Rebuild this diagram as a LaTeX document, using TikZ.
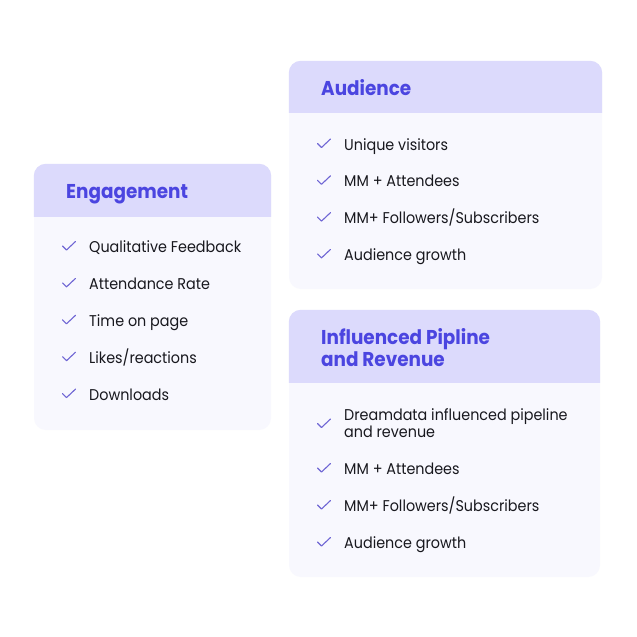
\documentclass[tikz,border=0pt]{standalone}
\usepackage{fontspec}
\setmainfont[FakeStretch=0.92]{Poppins}
\usetikzlibrary{calc}
\definecolor{hdrfill}{HTML}{DCDAFC}
\definecolor{bodyfill}{HTML}{F8F8FE}
\definecolor{titlecol}{HTML}{4B45E0}
\definecolor{checkcol}{HTML}{6F66D4}
\definecolor{itemcol}{HTML}{18181E}
\tikzset{
  cardbody/.style={draw=none, fill=bodyfill, rounded corners=12pt, inner sep=0pt},
  hdr/.style={fill=hdrfill, rounded corners=12pt},
  cardtitle/.style={anchor=base west, inner sep=0pt, text=titlecol, font=\fontsize{20}{22}\selectfont\bfseries, align=left},
  item/.style={anchor=base west, inner sep=0pt, text=itemcol, font=\fontsize{15.6}{17}\selectfont, align=left},
  checkmark/.style={draw=checkcol, line width=1.1pt, line cap=round, line join=round}
}
\newcommand\mycheck[1]{\draw[checkmark] ($(#1.base west)+(-26.5,-6.5)$) -- ++(4,4) -- ++(9,-8.5);}
\begin{document}
\begin{tikzpicture}[x=1pt,y=-1pt]
\useasboundingbox[fill=white] (0,0) rectangle (637,637);
% Engagement card
\node[cardbody, minimum width=237pt, minimum height=266pt] (engcard) at (152.5,297) {};
\fill[hdr] ($(engcard.north west)+(0,53)$) -- (engcard.north west) -- (engcard.north east) -- ($(engcard.north east)+(0,53)$);
\node[cardtitle] (engtitle) at (66,198.5) {Engagement};
\foreach \t [count=\i] in {Qualitative Feedback, Attendance Rate, Time on page, Likes/reactions, Downloads}{
  \node[item] (e\i) at (89,{252.5+36.9*(\i-1)}) {\t};
  \mycheck{e\i}
}
% Audience card
\node[cardbody, minimum width=313pt, minimum height=228pt] (audcard) at (445.5,175) {};
\fill[hdr] ($(audcard.north west)+(0,52)$) -- (audcard.north west) -- (audcard.north east) -- ($(audcard.north east)+(0,52)$);
\node[cardtitle] (audtitle) at (321,95) {Audience};
\foreach \t [count=\i] in {Unique visitors, MM + Attendees, MM+ Followers/Subscribers, Audience growth}{
  \node[item] (a\i) at (344,{150+36.8*(\i-1)}) {\t};
  \mycheck{a\i}
}
% Influenced card
\node[cardbody, minimum width=311pt, minimum height=267pt] (infcard) at (444.5,443.5) {};
\fill[hdr] ($(infcard.north west)+(0,73)$) -- (infcard.north west) -- (infcard.north east) -- ($(infcard.north east)+(0,73)$);
\node[cardtitle] (inftitle) at (321,366) {Influenced Pipline\\and Revenue};
\node[item] (i1) at (344,437.5) {Dreamdata influenced pipeline\\and revenue};
\draw[checkmark] ($(i1.base west)+(-26.5,-14)$) -- ++(4,4) -- ++(9,-8.5);
\foreach \t [count=\i from 2] in {MM + Attendees, MM+ Followers/Subscribers, Audience growth}{
  \node[item] (i\i) at (344,{474.5+37*(\i-2)}) {\t};
  \mycheck{i\i}
}
\end{tikzpicture}
\end{document}
